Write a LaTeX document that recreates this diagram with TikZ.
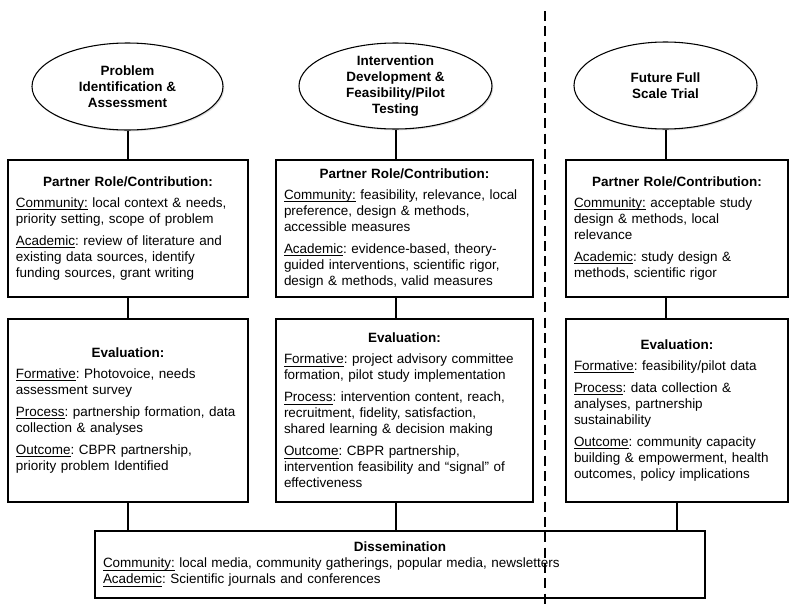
\documentclass[tikz,border=0pt]{standalone}
\usepackage{fontspec}
\setmainfont{Liberation Sans}
\usetikzlibrary{shapes.geometric,shadows}

\newcommand{\boxtitle}[1]{\makebox[\hsize]{\textbf{#1}}}
\newcommand{\undl}[1]{\underline{\smash{#1}}}
\frenchspacing

\begin{document}
\begin{tikzpicture}[x=0.75pt,y=-0.75pt,
  every node/.style={font=\fontsize{10.1}{12}\selectfont},
  fase/.style={ellipse,draw,line width=0.8pt,fill=white,inner sep=0pt,align=center,
    font=\fontsize{10.1}{12}\selectfont\bfseries,
    drop shadow={opacity=0.25,shadow xshift=1pt,shadow yshift=-1pt}},
  caja/.style={rectangle,draw,line width=0.8pt,fill=white,inner xsep=6pt,inner ysep=0pt,align=left,
    drop shadow={opacity=0.25,shadow xshift=1pt,shadow yshift=-1pt}},
  enlace/.style={line width=1.5pt},
  divisor/.style={line width=1.5pt,dash pattern=on 7.5pt off 4pt}]
      \useasboundingbox (0,0) rectangle (800,607);
      % Fases
      \node[fase,minimum width=143.25pt,minimum height=65.25pt] (f1) at (127.5,86.5) {Problem\\Identification \&\\Assessment};
      \node[fase,minimum width=144.75pt,minimum height=64.5pt] (f2) at (395.5,86) {Intervention\\Development \&\\Feasibility/Pilot\\Testing};
      \node[fase,minimum width=137.25pt,minimum height=65.25pt] (f3) at (665.5,85.5) {Future Full\\Scale Trial};
      % Roles de los socios
      \node[caja,text width=168pt,minimum height=102.75pt] (s1) at (128,228.5) {%
        \boxtitle{Partner Role/Contribution:}\\[4pt]
        \undl{Community:} local context \& needs,\\
        priority setting, scope of problem\\[4.5pt]
        \undl{Academic}: review of literature and\\
        existing data sources, identify\\
        funding sources, grant writing};
      \node[caja,text width=180.75pt,minimum height=102.75pt] (s2) at (404.5,228.5) {%
        \boxtitle{Partner Role/Contribution:}\\[4pt]
        \undl{Community:} feasibility, relevance, local\\
        preference, design \& methods,\\
        accessible measures\\[4.5pt]
        \undl{Academic}: evidence-based, theory-\\
        guided interventions, scientific rigor,\\
        design \& methods, valid measures};
      \node[caja,text width=154.5pt,minimum height=102.75pt] (s3) at (677,228.5) {%
        \boxtitle{Partner Role/Contribution:}\\[4pt]
        \undl{Community:} acceptable study\\
        design \& methods, local\\
        relevance\\[4.5pt]
        \undl{Academic}: study design \&\\
        methods, scientific rigor};
      % Evaluacion
      \node[caja,text width=168pt,minimum height=137.25pt] (v1) at (128,410.5) {%
        \boxtitle{Evaluation:}\\[4pt]
        \undl{Formative}: Photovoice, needs\\
        assessment survey\\[4.5pt]
        \undl{Process}: partnership formation, data\\
        collection \& analyses\\[4.5pt]
        \undl{Outcome}: CBPR partnership,\\
        priority problem Identified};
      \node[caja,text width=180.75pt,minimum height=137.25pt] (v2) at (404.5,410.5) {%
        \boxtitle{Evaluation:}\\[4pt]
        \undl{Formative}: project advisory committee\\
        formation, pilot study implementation\\[4.5pt]
        \undl{Process}: intervention content, reach,\\
        recruitment, fidelity, satisfaction,\\
        shared learning \& decision making\\[4.5pt]
        \undl{Outcome}: CBPR partnership,\\
        intervention feasibility and “signal” of\\
        effectiveness};
      \node[caja,text width=154.5pt,minimum height=137.25pt] (v3) at (677,410.5) {%
        \boxtitle{Evaluation:}\\[4pt]
        \undl{Formative}: feasibility/pilot data\\[4.5pt]
        \undl{Process}: data collection \&\\
        analyses, partnership\\
        sustainability\\[4.5pt]
        \undl{Outcome}: community capacity\\
        building \& empowerment, health\\
        outcomes, policy implications};
      % Difusion
      \node[caja,text width=445.5pt,minimum height=50.25pt] (d) at (400,564.5) {%
        \boxtitle{Dissemination}\\
        \undl{Community:} local media, community gatherings, popular media, newsletters\\
        \undl{Academic}: Scientific journals and conferences};
      % Enlaces
      \draw[enlace] (f1.south) -- (f1.south |- s1.north);
      \draw[enlace] (s1.south) -- (v1.north);
      \draw[enlace] (v1.south) -- (v1.south |- d.north);
      \draw[enlace] (f2.south) -- (f2.south |- s2.north);
      \draw[enlace] (s2.south -| f2.south) -- (f2.south |- v2.north);
      \draw[enlace] (v2.south -| f2.south) -- (f2.south |- d.north);
      \draw[enlace] (f3.south) -- (f3.south |- s3.north);
      \draw[enlace] (s3.south -| f3.south) -- (f3.south |- v3.north);
      \draw[enlace] (v3.south) -- (v3.south |- d.north);
      % Linea divisoria
      \coordinate (arriba) at (545,11);
      \coordinate (abajo) at (545,607);
      \draw[divisor] (arriba) -- (abajo);
\end{tikzpicture}
\end{document}
